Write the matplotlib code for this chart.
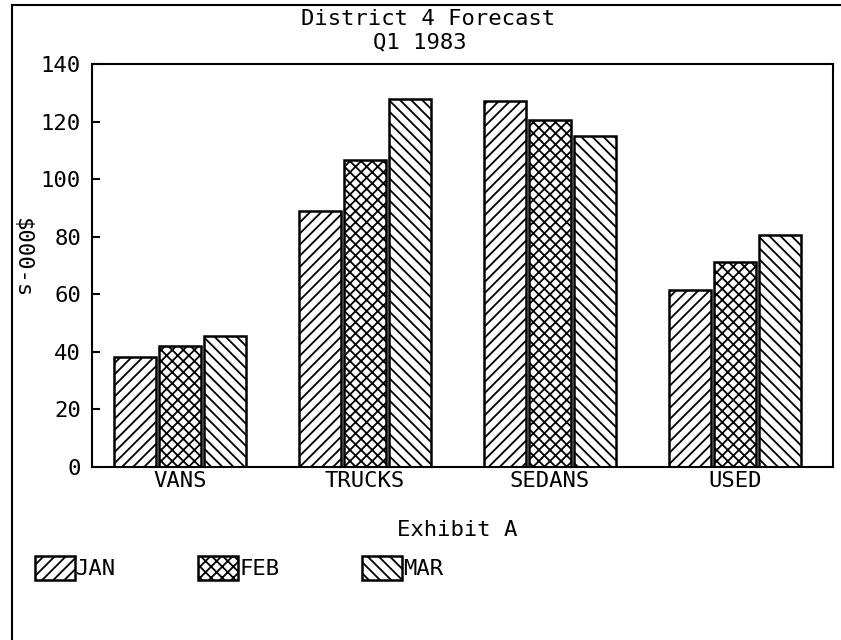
"""
District 4 forecast bar chart, Q1 1983
"""
import numpy as np
import matplotlib
matplotlib.use('Agg')
import matplotlib.pyplot as plt
from matplotlib.patches import Patch
from matplotlib.lines import Line2D

# data
categories = ['VANS', 'TRUCKS', 'SEDANS', 'USED']
months = ['JAN', 'FEB', 'MAR']
jan = [38, 89, 127, 61.5]
feb = [42, 106.5, 120.5, 71]
mar = [45.5, 128, 115, 80.5]
yticks = [0, 20, 40, 60, 80, 100, 120, 140]

hatches = ['///', 'xxx', '\\\\\\']
font = 'DejaVu Sans Mono'
fs = 16

plt.rcParams['hatch.linewidth'] = 1.3
plt.rcParams['font.family'] = font

fig = plt.figure(figsize=(8.41, 6.40), dpi=100)
ax = fig.add_axes([92 / 841, 1 - 466.7 / 640, (833 - 92) / 841, (466.7 - 64) / 640])

x = np.arange(len(categories))
step = 0.243
width = 0.225
for i, (vals, h) in enumerate(zip([jan, feb, mar], hatches)):
    ax.bar(x + (i - 1) * step, vals, width, facecolor='white', edgecolor='black',
           hatch=h, linewidth=1.8, label=months[i])

ax.set_xlim(-0.476, 3.53)
ax.set_ylim(0, 140)
ax.set_yticks(yticks)
ax.set_yticklabels([str(v) for v in yticks], fontsize=fs)
ax.set_xticks(x)
ax.set_xticklabels(categories, fontsize=fs)
ax.tick_params(axis='y', direction='in', length=6, width=1.5, pad=8)
ax.tick_params(axis='x', length=0, pad=3)
for s in ax.spines.values():
    s.set_linewidth(1.5)

# y label, characters turned clockwise
fig.text(22 / 841, 1 - 258 / 640, '$000-s', rotation=270, fontsize=fs,
         ha='center', va='center')

# title lines
fig.text(428 / 841, 1 - 19 / 640, 'District 4 Forecast', fontsize=fs,
         ha='center', va='center')
fig.text(420 / 841, 1 - 42 / 640, 'Q1 1983', fontsize=fs, ha='center', va='center')

fig.text(457 / 841, 1 - 530 / 640, 'Exhibit A', fontsize=fs, ha='center', va='center')

# legend row
handles = [Patch(facecolor='white', edgecolor='black', hatch=h, linewidth=1.8)
           for h in hatches]
fig.legend(handles, months, loc='center left', bbox_to_anchor=(26 / 841, 1 - 568 / 640),
           ncol=3, frameon=False, fontsize=fs, handlelength=1.8, handleheight=1.35,
           handletextpad=0.05, columnspacing=3.7, borderaxespad=0)

# outer frame (left and top edges)
fig.add_artist(Line2D([12 / 841, 12 / 841], [0, 1 - 5 / 640], color='black', lw=1.5))
fig.add_artist(Line2D([12 / 841, 1], [1 - 5 / 640, 1 - 5 / 640], color='black', lw=1.5))

fig.savefig('out.png', dpi=100)
